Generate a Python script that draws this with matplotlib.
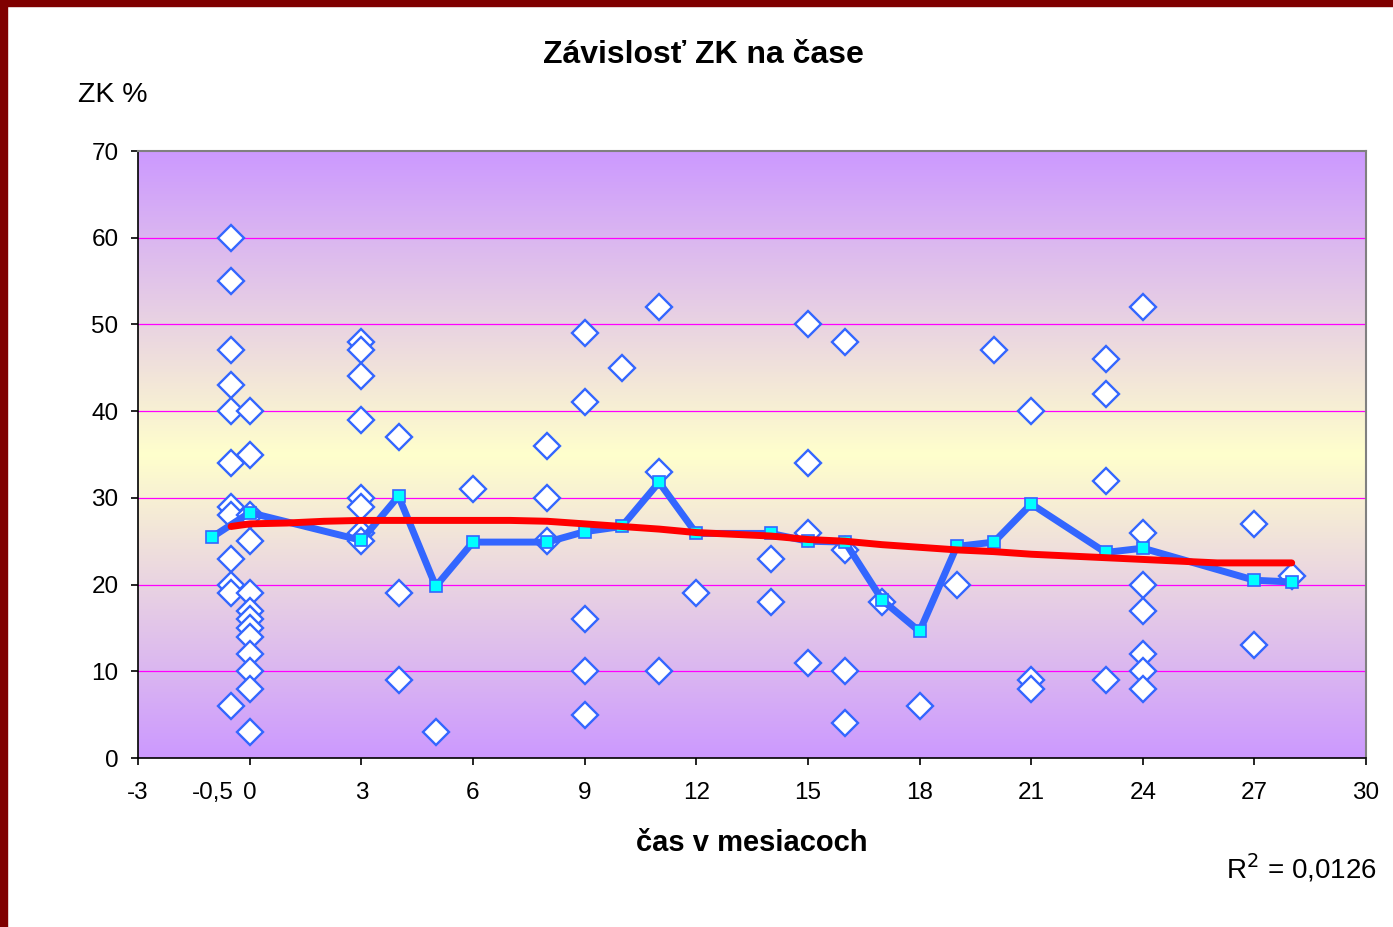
import numpy as np
import matplotlib.pyplot as plt
from matplotlib.colors import LinearSegmentedColormap
from matplotlib.patches import Rectangle

plt.rcParams['font.family'] = ['Liberation Sans', 'DejaVu Sans']

# individual measurements (diamonds), grouped by month
obs_time = [-0.5, 0, 3, 4, 5, 6, 8, 9, 10, 11, 12, 14, 15, 16, 17, 18, 19, 20, 21, 23, 24, 27, 28]
obs_values = [
    [60, 55, 47, 43, 40, 34, 29, 28, 23, 20, 19, 6],
    [40, 35, 28, 25, 19, 17, 16, 15, 14, 12, 10, 8, 3],
    [48, 47, 44, 39, 30, 29, 26, 25],
    [37, 19, 9],
    [3],
    [31],
    [36, 30, 25],
    [49, 41, 16, 10, 5],
    [45],
    [52, 33, 10],
    [19],
    [23, 18],
    [50, 34, 26, 11],
    [48, 24, 10, 4],
    [18],
    [6],
    [20],
    [47],
    [40, 9, 8],
    [46, 42, 32, 9],
    [52, 26, 20, 17, 12, 10, 8],
    [27, 13],
    [21],
]

# mean line (squares); first point sits at the "-0,5" label position
mean_time = [-1, 0, 3, 4, 5, 6, 8, 9, 10, 11, 12, 14, 15, 16, 17, 18, 19, 20, 21, 23, 24, 27, 28]
mean_zk = [25.5, 28.3, 25.1, 30.2, 19.8, 24.9, 24.9, 26.1, 26.7, 31.8, 25.9, 25.9, 25.0, 24.9,
           18.2, 14.6, 24.4, 24.9, 29.3, 23.7, 24.2, 20.5, 20.3]

# trend line (red)
trend_time = [-0.5, 0, 1, 2, 3, 4, 5, 6, 7, 8, 9, 10, 11, 12, 13, 14, 15, 16, 17, 18, 19, 20,
              21, 22, 23, 24, 25, 26, 27, 28]
trend_zk = [26.7, 27.0, 27.1, 27.3, 27.4, 27.4, 27.4, 27.4, 27.4, 27.3, 27.0, 26.7, 26.4, 26.0,
            25.8, 25.6, 25.2, 25.0, 24.6, 24.3, 24.0, 23.8, 23.5, 23.3, 23.1, 22.9, 22.7, 22.5,
            22.5, 22.5]

x_ticks = list(range(-3, 31, 3))
y_ticks = list(range(0, 71, 10))

fig = plt.figure(figsize=(13.93, 9.27), dpi=100)
ax = fig.add_axes([0.0991, 0.1823, 0.8816, 0.6548])

# gradient background: purple at edges, pale yellow in the centre
cmap = LinearSegmentedColormap.from_list('bg', ['#CC99FF', '#FFFFCC', '#CC99FF'])
grad = np.linspace(0, 1, 256).reshape(-1, 1)
ax.imshow(grad, cmap=cmap, aspect='auto', extent=[-3, 30, 0, 70], origin='lower', zorder=0)

for v in y_ticks[1:-1]:
    ax.axhline(v, color='#FF00FF', lw=0.9, zorder=1)

xs = [t for t, vals in zip(obs_time, obs_values) for _ in vals]
ys = [v for vals in obs_values for v in vals]
ax.plot(xs, ys, 'D', ms=13.5, mfc='white', mec='#3366FF', mew=1.7, ls='none', zorder=2)

ax.plot(mean_time, mean_zk, '-s', color='#3366FF', lw=5, ms=8.5, mfc='#00FFFF', mec='#3366FF',
        mew=1.2, zorder=3)
ax.plot(trend_time, trend_zk, '-', color='#FF0000', lw=5, solid_capstyle='round', zorder=4)

ax.set_xlim(-3, 30)
ax.set_ylim(0, 70)
ax.set_xticks(x_ticks)
ax.set_xticklabels([str(t) for t in x_ticks])
ax.set_xticks([-1], minor=True)
ax.set_xticklabels(['-0,5'], minor=True)
ax.set_yticks(y_ticks)
ax.tick_params(axis='both', which='major', direction='out', length=5, width=1.2, labelsize=17.5)
ax.tick_params(axis='x', which='major', pad=12)
ax.tick_params(axis='x', which='minor', length=0, pad=17, labelsize=17.5)
ax.tick_params(axis='y', pad=9)

for s in ['top', 'right']:
    ax.spines[s].set_color('#808080')
    ax.spines[s].set_linewidth(1.5)
for s in ['left', 'bottom']:
    ax.spines[s].set_color('black')
    ax.spines[s].set_linewidth(1.2)

fig.text(0.505, 0.9407, 'Závislosť ZK na čase', ha='center', va='center', fontsize=23,
         fontweight='bold')
fig.text(0.056, 0.8975, 'ZK %', ha='left', va='center', fontsize=20.5)
fig.text(0.54, 0.0906, 'čas v mesiacoch', ha='center', va='center', fontsize=21,
         fontweight='bold')
fig.text(0.9885, 0.0636, 'R$^2$ = 0,0126', ha='right', va='center', fontsize=20)

# dark red frame on top and left
fig.patches.append(Rectangle((0, 0), 0.005, 1, transform=fig.transFigure, color='#800000'))
fig.patches.append(Rectangle((0, 0.9935), 1, 0.0065, transform=fig.transFigure, color='#800000'))

fig.savefig('out.png', dpi=100)
